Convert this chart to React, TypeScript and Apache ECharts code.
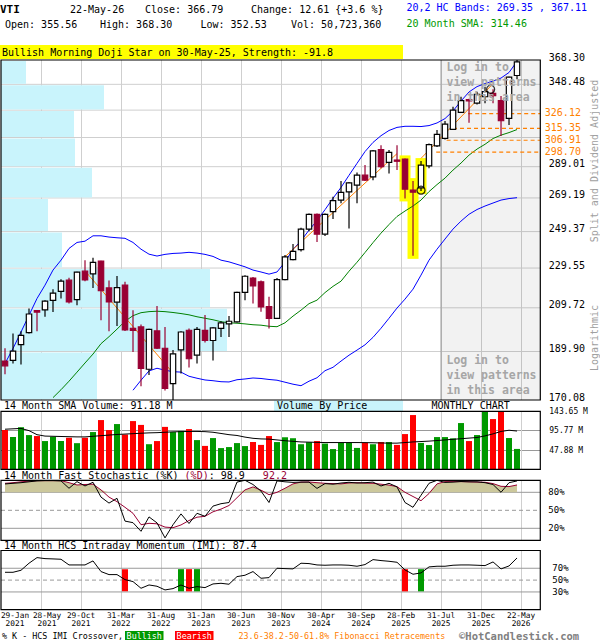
import React, { useEffect, useRef } from 'react';
import * as echarts from 'echarts';

const MONO = '"DejaVu Sans Mono", "Liberation Mono", monospace';
const font = (size: number, bold = false) => (bold ? 'bold ' : '') + size + 'px ' + MONO;

const RED_DARK = '#990033';
const VOL_RED = '#ff0000';
const VOL_GREEN = '#009900';
const ORANGE = '#ff8000';
const GRID_GRAY = '#cfcfcf';
const LEVEL_GRAY = '#999999';
const VBP_CYAN = '#c9f4fc';
const KHAKI = '#ccc89c';

// ---------------- data ----------------
const X_TICK_LABELS = [
  '29-Jan\n2021', '28-May\n2021', '29-Oct\n2021', '31-Mar\n2022', '31-Aug\n2022', '31-Jan\n2023',
  '30-Jun\n2023', '30-Nov\n2023', '30-Apr\n2024', '30-Sep\n2024', '28-Feb\n2025', '31-Jul\n2025',
  '31-Dec\n2025', '22-May\n2026',
];

// monthly OHLC, Jan-2021 .. May-2026 (65 months)
const OPEN = [
  185.8, 186.1, 192.9, 198.2, 208.4, 208.7, 213.3, 217.7, 223.3, 213.7,
  227.9, 226.5, 233.2, 219.4, 212.4, 220.8, 200.2, 200.8, 182.4, 199.0,
  191.3, 176.5, 190.6, 199.3, 188.3, 199.2, 194.7, 200.1, 202.2, 203.1,
  217.2, 224.4, 222.5, 210.3, 204.7, 223.6, 234.0, 239.4, 250.8, 259.3,
  247.9, 260.9, 267.9, 272.9, 277.2, 283.5, 282.4, 300.5, 291.8, 293.4,
  294.1, 274.0, 275.4, 289.5, 303.0, 308.2, 314.6, 327.0, 336.7, 333.9,
  338.8, 341.4, 335.8, 322.5, 355.56,
];
const HIGH = [
  191.3, 197.8, 198.8, 209.4, 208.6, 213.4, 218.8, 223.8, 224.5, 227.6,
  233.7, 235.0, 233.4, 223.2, 225.5, 222.5, 208.6, 201.9, 200.0, 210.6,
  200.8, 190.5, 198.8, 200.1, 200.8, 206.3, 200.8, 203.4, 205.8, 217.5,
  225.8, 224.9, 223.2, 215.0, 224.4, 236.4, 242.5, 251.5, 259.9, 259.9,
  259.9, 269.9, 279.7, 279.2, 285.2, 290.1, 300.1, 303.5, 300.1, 303.5,
  294.5, 279.7, 292.7, 304.6, 314.1, 320.7, 331.2, 338.8, 337.3, 342.7,
  346.5, 344.7, 339.3, 354.5, 368.30,
];
const LOW = [
  180.3, 184.8, 184.4, 197.8, 198.8, 205.5, 207.7, 214.2, 211.8, 211.0,
  222.8, 219.4, 203.9, 198.8, 201.2, 199.0, 189.7, 175.5, 180.0, 191.0,
  173.8, 169.0, 180.6, 183.1, 184.8, 193.8, 186.1, 196.3, 196.3, 202.8,
  213.4, 211.8, 207.9, 200.1, 204.4, 223.3, 233.7, 238.4, 249.6, 243.6,
  246.9, 256.6, 265.9, 251.2, 265.9, 279.7, 280.3, 288.0, 284.6, 286.8,
  268.9, 236.0, 273.4, 288.0, 302.3, 307.5, 314.1, 326.6, 319.3, 332.8,
  333.9, 333.9, 309.8, 317.7, 352.53,
];
const CLOSE = [
  183.8, 190.1, 197.0, 206.8, 207.7, 212.9, 216.8, 222.8, 212.5, 227.4,
  223.4, 232.5, 218.0, 212.5, 219.6, 199.4, 199.2, 182.7, 199.7, 191.3,
  174.6, 188.9, 198.5, 186.8, 199.7, 194.8, 200.4, 202.7, 203.4, 217.2,
  225.3, 220.4, 210.1, 204.7, 223.6, 235.4, 238.4, 250.8, 259.3, 247.9,
  259.3, 267.5, 272.6, 278.6, 283.5, 280.3, 299.6, 289.0, 298.5, 292.7,
  274.6, 272.7, 290.1, 303.9, 311.0, 318.4, 328.7, 335.8, 335.6, 340.7,
  342.7, 339.6, 320.8, 354.18, 366.79,
];

const BAND_UPPER = [
  184.8, 191.2, 198.5, 206.2, 214.2, 220.8, 228.5, 233.7, 240.0, 243.3,
  244.0, 247.0, 247.0, 246.3, 245.9, 245.6, 243.3, 239.6, 236.9, 235.9,
  236.8, 237.3, 237.5, 237.9, 237.5, 236.8, 235.7, 233.7, 232.8, 231.5,
  230.2, 228.5, 227.5, 226.4, 227.5, 232.7, 239.6, 244.2, 250.2, 255.7,
  262.1, 269.0, 275.7, 283.4, 291.2, 299.1, 305.4, 310.1, 313.8, 316.0,
  316.8, 316.8, 316.6, 317.3, 319.2, 322.4, 328.0, 335.5, 342.5, 346.7,
  349.1, 351.1, 353.5, 358.0, 367.11,
];
const BAND_LOWER = [
  null, null, null, null, null, null, null, null, null, null,
  null, null, null, null, null, null, 173.9, 177.9, 181.7, 182.8,
  182.0, 181.4, 181.2, 179.5, 178.7, 178.0, 177.7, 177.3, 177.2, 178.1,
  178.4, 178.8, 178.6, 178.2, 177.9, 177.1, 176.3, 175.7, 177.5, 178.9,
  181.8, 183.2, 185.8, 188.3, 190.5, 192.8, 196.1, 200.2, 204.8, 209.6,
  213.9, 218.8, 225.9, 233.7, 239.6, 245.2, 250.8, 255.4, 259.4, 262.2,
  264.3, 266.1, 267.9, 268.8, 269.35,
];
const SMA20 = [
  null, null, null, null, null, null, 171.0, 174.1, 177.5, 181.2,
  185.0, 188.8, 193.3, 196.4, 199.8, 203.4, 206.0, 207.4, 207.9, 208.1,
  207.9, 207.5, 207.0, 206.4, 205.5, 204.8, 204.1, 203.2, 202.7, 202.5,
  202.2, 201.8, 201.6, 201.1, 200.9, 202.7, 205.8, 208.6, 211.7, 213.4,
  217.1, 220.2, 222.8, 227.9, 232.6, 237.8, 243.2, 248.5, 253.4, 258.1,
  261.3, 264.3, 267.9, 273.1, 277.5, 281.6, 286.8, 291.4, 296.7, 300.8,
  304.1, 308.1, 310.5, 312.3, 314.46,
];

// volume in millions
const VOLUME = [
  97.5, 80.5, 104.5, 85.0, 82.6, 70.2, 80.9, 70.2, 78.4, 65.0,
  78.4, 92.5, 122.2, 97.4, 112.3, 86.7, 119.7, 110.2, 62.4, 70.2,
  105.3, 92.5, 95.3, 99.9, 72.6, 58.2, 77.6, 52.8, 55.3, 65.2,
  57.8, 68.0, 60.7, 82.6, 67.7, 79.6, 77.2, 62.4, 67.3, 70.2,
  64.0, 50.4, 66.1, 66.1, 53.2, 66.1, 62.3, 67.7, 67.7, 60.7,
  87.5, 134.6, 65.6, 60.3, 80.1, 80.1, 76.9, 114.8, 70.2, 85.1,
  150, 124.7, 152, 77.7, 50.72,
];
const VOLUME_SMA14 = [
  99.5, 100.5, 101.5, 96, 86, 82.5, 82, 81.5, 81, 80.5,
  80.5, 82, 83.5, 85, 86.5, 87.5, 88.5, 89.5, 90.5, 91,
  92, 93, 93.5, 94, 94, 93.5, 92, 89, 86, 84,
  80, 77, 75.5, 75, 73, 71, 69.5, 68, 67.5, 67,
  66.5, 66.5, 66.5, 66.5, 66.5, 66.3, 66, 65.5, 65, 65,
  66.5, 68, 69, 70, 71.5, 73, 74.5, 76, 77.5, 79,
  83, 88, 94, 97, 95,
];

const STOCH_K = [
  93.9, 95, 96, 97.5, 99, 99.5, 99.5, 99, 86.7, 97.8,
  90.6, 96.7, 72, 62, 70, 32, 29.4, 15, 39, 29,
  4, 26, 44, 28, 45, 40, 57, 61, 63, 97,
  100, 93, 82, 63, 99, 97.5, 96.5, 97, 97, 86.5,
  94.5, 93.5, 95.5, 96.7, 95.5, 96, 97, 90.5, 95, 89,
  63, 55, 75, 95, 100, 96.5, 97, 98, 97.5, 97.5,
  96, 93, 80, 96, 98.9,
];
const STOCH_D = [
  95, 96, 97.5, 98.5, 99.4, 99.4, 99.4, 99.4, 96, 92.2,
  93, 93.5, 84, 72, 64.4, 55, 45, 26, 28.3, 27.5,
  22, 21, 25.6, 33, 38.5, 40, 47.5, 52, 58, 71,
  84, 89, 83.5, 76, 80, 86.7, 94, 97, 97.2, 96,
  95, 94.5, 94, 95.5, 96, 95.3, 95, 93.5, 92, 89.5,
  80, 73, 66, 78, 94, 97.8, 97.8, 97.8, 97.5, 97,
  96.7, 94.5, 90, 89.5, 92.2,
];
const IMI = [
  63.2, 63.2, 66.6, 78.5, 88, 86.3, 85.8, 85.2, 75.6, 75.6,
  75.6, 82.4, 64.4, 59.3, 59.3, 50.8, 47.5, 36.2, 41.8, 39.6,
  33.4, 35.6, 41.8, 36.2, 39, 37.3, 43.5, 44.6, 43, 55.9,
  58.2, 64.4, 53.1, 54.2, 70, 69.4, 68.9, 78.5, 77.9, 75.6,
  75.1, 75.6, 75.6, 75.1, 73.4, 76.2, 84.6, 83, 81.8, 80.1,
  67.2, 59.9, 62.1, 72.3, 73.4, 73.4, 75.1, 75.6, 75.6, 75.1,
  74.5, 80.7, 68.9, 73.9, 87.4,
];
const IMI_BULLISH = [22, 24, 52];
const IMI_BEARISH = [15, 23, 50];

const PRICE_TICKS = [170.08, 189.90, 209.72, 229.55, 249.37, 269.19, 289.01, 308.83, 328.66, 348.48, 368.30];
const PRICE_TICK_LABELS = ['170.08', '189.90', '209.72', '229.55', '249.37', '269.19', '289.01', '', '', '348.48', '368.30'];
// volume-by-price per band between consecutive PRICE_TICKS (relative)
const VBP_VOLUME = [96, 226, 209, 61, 47, 91, 74, 73, 103, 25];

const FIB_LEVELS = [326.12, 315.35, 306.91, 298.70];
const FIB_START_MONTH = [57.9, 56.0, 55.2, 53.9];
const TREND_LINES = [
  [10.1, 227.6, 20.8, 181.6],
  [35.0, 235.5, 49.0, 297.7],
  [52.0, 294.5, 61.0, 349.0],
];
const PATTERN_MONTHS = [50, 51, 52];
const CIRCLES = [[52, 274.0], [60.7, 344.6]];
const LOCKED_FROM_MONTH = 54.5;
const STOCH_LEVELS = [20, 50, 80];
const IMI_LEVELS = [30, 50, 70];

// --------------- layout helpers ---------------
const X_MAX = 67.41;
const T = (i: number) => i + 0.5;
const GRIDS = [
  { left: 1, top: 60, width: 539.3, height: 340 },
  { left: 1, top: 411.4, width: 539.3, height: 58 },
  { left: 1, top: 480.3, width: 539.3, height: 60 },
  { left: 1, top: 550.5, width: 539.3, height: 59.2 },
];
const XLAB_SIZE = 7.8;
const XLAB_LH = 8.5;
const XLAB_MARGIN = 1.5;

function txtStyle(text: string, size: number, color: string, align = 'left', bold = false) {
  return {
    text, font: font(size, bold), fill: color,
    align, textAlign: align, verticalAlign: 'middle', textVerticalAlign: 'middle',
  };
}

function buildOption(): any {
  const xBase = (gridIndex: number) => ({
    type: 'value', gridIndex, min: 0, max: X_MAX, interval: 5,
    axisLine: { show: false }, axisTick: { show: false }, axisLabel: { show: false },
    splitLine: { show: true, showMinLine: false, showMaxLine: false, lineStyle: { color: GRID_GRAY, width: 1 } },
  });
  const xAxis: any[] = [xBase(0), xBase(1), xBase(2), xBase(3),
    { type: 'value', gridIndex: 0, min: 0, max: 539.3, show: false, position: 'top' }];
  xAxis[3].axisLabel = {
    show: true, fontFamily: MONO, fontSize: XLAB_SIZE, lineHeight: XLAB_LH, color: '#000', margin: XLAB_MARGIN,
    showMinLabel: false, showMaxLabel: false,
    rich: { s: { fontFamily: MONO, fontSize: XLAB_SIZE, lineHeight: XLAB_LH, color: '#000', padding: [0, 0, 0, 12] } },
    formatter: (v: number) => {
      const k = Math.round(v / 5);
      if (Math.abs(v - k * 5) > 1e-6 || k === 0) return '';
      const s = X_TICK_LABELS[k] ?? '';
      if (k === 1) return s.split('\n').map((p) => '{s|' + p + '}').join('\n');
      return s;
    },
  };

  const pctAxis = (gridIndex: number, levels: number[], margin: number) => ({
    type: 'value', gridIndex, min: 0, max: 100, interval: 10, position: 'right',
    axisLine: { show: false }, axisTick: { show: false }, splitLine: { show: false },
    axisLabel: {
      margin, fontFamily: MONO, fontSize: 9, color: '#000',
      formatter: (v: number) => (levels.indexOf(Math.round(v)) >= 0 ? Math.round(v) + '%' : ''),
    },
  });
  const yAxis: any[] = [
    { type: 'log', gridIndex: 0, min: 170.08, max: 368.30, logBase: 10, show: false },
    {
      type: 'value', gridIndex: 1, min: 0, max: 143.65, interval: 143.65 / 3, position: 'right',
      axisLine: { show: false }, axisTick: { show: false },
      splitLine: { show: true, lineStyle: { color: LEVEL_GRAY, width: 1 } },
      axisLabel: {
        margin: 9, fontFamily: MONO, fontSize: 8, color: '#000',
        formatter: (v: number) => (v < 1 ? '' : v.toFixed(2) + ' M'),
      },
    },
    pctAxis(2, STOCH_LEVELS, 8),
    pctAxis(3, IMI_LEVELS, 12),
  ];

  const line = (values: (number | null)[], xi: number, yi: number, color: string, z: number, width = 1) => ({
    type: 'line', xAxisIndex: xi, yAxisIndex: yi, z, silent: true,
    symbol: 'none', showSymbol: false, lineStyle: { color, width }, itemStyle: { color },
    data: values.map((v, i) => (v == null ? null : [T(i), v])).filter((d) => d !== null),
  });

  const levelSeries = (xi: number, yi: number, levels: number[]) => ({
    type: 'custom', xAxisIndex: xi, yAxisIndex: yi, z: 1, silent: true,
    data: levels.map((v) => [0, v]),
    renderItem: (params: any, api: any) => {
      const cs = params.coordSys;
      const y = api.coord([0, api.value(1)])[1];
      const dashed = api.value(1) === 50;
      return {
        type: 'line', shape: { x1: cs.x, y1: y, x2: cs.x + cs.width, y2: y },
        style: { stroke: LEVEL_GRAY, lineWidth: 1, lineDash: dashed ? [4, 3] : null },
      };
    },
  });

  const series: any[] = [
    // horizontal price grid + right labels
    {
      type: 'custom', xAxisIndex: 0, yAxisIndex: 0, z: 1, silent: true,
      data: PRICE_TICKS.map((p) => [0, p]),
      renderItem: (params: any, api: any) => {
        const cs = params.coordSys;
        const idx = params.dataIndex;
        const y = api.coord([0, api.value(1)])[1];
        const children: any[] = [];
        if (idx > 0 && idx < PRICE_TICKS.length - 1) {
          children.push({ type: 'line', shape: { x1: cs.x, y1: y, x2: cs.x + cs.width, y2: y }, style: { stroke: GRID_GRAY, lineWidth: 1 } });
        }
        const label = PRICE_TICK_LABELS[idx];
        if (label) {
          children.push({ type: 'text', x: cs.x + cs.width + 8.5, y: y - 3, style: txtStyle(label, 10, '#000') });
        }
        return { type: 'group', children };
      },
    },
    // locked (grey) area
    {
      type: 'custom', xAxisIndex: 0, yAxisIndex: 0, z: 1, silent: true,
      data: [[T(LOCKED_FROM_MONTH), 200]],
      renderItem: (params: any, api: any) => {
        const cs = params.coordSys;
        const x0 = api.coord([api.value(0), 200])[0];
        return {
          type: 'group', children: [
            { type: 'rect', shape: { x: x0, y: cs.y, width: cs.x + cs.width - x0, height: cs.height }, style: { fill: 'rgba(0,0,0,0.05)' } },
            { type: 'line', shape: { x1: x0, y1: cs.y, x2: x0, y2: cs.y + cs.height }, style: { stroke: '#9a9a9a', lineWidth: 1 } },
          ],
        };
      },
    },
    // volume by price
    {
      type: 'custom', xAxisIndex: 4, yAxisIndex: 0, z: 2, silent: true,
      data: VBP_VOLUME.map((v, k) => [v, PRICE_TICKS[k], PRICE_TICKS[k + 1]]),
      renderItem: (params: any, api: any) => {
        const cs = params.coordSys;
        const pHi = api.coord([api.value(0), api.value(2)]);
        const pLo = api.coord([api.value(0), api.value(1)]);
        return {
          type: 'rect',
          shape: { x: cs.x, y: pHi[1] + 1, width: pHi[0] - cs.x, height: Math.max(pLo[1] - pHi[1] - 1.5, 0) },
          style: { fill: VBP_CYAN },
        };
      },
    },
    // pattern highlight
    {
      type: 'custom', xAxisIndex: 0, yAxisIndex: 0, z: 3, silent: true,
      data: PATTERN_MONTHS.map((i) => [T(i), HIGH[i], LOW[i]]),
      renderItem: (params: any, api: any) => {
        const pH = api.coord([api.value(0), api.value(1)]);
        const pL = api.coord([api.value(0), api.value(2)]);
        return { type: 'rect', shape: { x: pH[0] - 5.5, y: pH[1] - 3, width: 11, height: pL[1] - pH[1] + 6 }, style: { fill: '#ffff00' } };
      },
    },
    line(BAND_UPPER, 0, 0, '#0000ff', 4),
    line(BAND_LOWER, 0, 0, '#0000ff', 4),
    line(SMA20, 0, 0, '#008000', 4),
    // trend lines
    {
      type: 'custom', xAxisIndex: 0, yAxisIndex: 0, z: 5, silent: true,
      data: TREND_LINES.map((r) => [T(r[0]), r[1], T(r[2]), r[3]]),
      renderItem: (params: any, api: any) => {
        const a = api.coord([api.value(0), api.value(1)]);
        const b = api.coord([api.value(2), api.value(3)]);
        return { type: 'line', shape: { x1: a[0], y1: a[1], x2: b[0], y2: b[1] }, style: { stroke: ORANGE, lineWidth: 1 } };
      },
    },
    // fibonacci retracements
    {
      type: 'custom', xAxisIndex: 0, yAxisIndex: 0, z: 5, silent: true,
      data: FIB_LEVELS.map((p, k) => [T(FIB_START_MONTH[k]), p]),
      renderItem: (params: any, api: any) => {
        const cs = params.coordSys;
        const a = api.coord([api.value(0), api.value(1)]);
        const xr = cs.x + cs.width;
        return {
          type: 'group', children: [
            { type: 'line', shape: { x1: a[0], y1: a[1], x2: xr, y2: a[1] }, style: { stroke: ORANGE, lineWidth: 1.2, lineDash: [4, 3] } },
            { type: 'text', x: xr + 4.5, y: a[1] - 1, style: txtStyle(api.value(1).toFixed(2), 10, ORANGE) },
          ],
        };
      },
    },
    // candles
    {
      type: 'custom', xAxisIndex: 0, yAxisIndex: 0, z: 6, silent: true,
      data: OPEN.map((o, i) => [T(i), o, HIGH[i], LOW[i], CLOSE[i]]),
      renderItem: (params: any, api: any) => {
        const cs = params.coordSys;
        const t = api.value(0), o = api.value(1), h = api.value(2), l = api.value(3), c = api.value(4);
        const pO = api.coord([t, o]);
        const x = pO[0];
        const yC = api.coord([t, c])[1];
        const yH = Math.max(api.coord([t, h])[1], cs.y);
        const yL = Math.min(api.coord([t, l])[1], cs.y + cs.height);
        const up = c >= o;
        const col = up ? '#000000' : RED_DARK;
        const top = Math.min(pO[1], yC);
        const bh = Math.max(Math.abs(yC - pO[1]), 1.2);
        return {
          type: 'group', children: [
            { type: 'line', shape: { x1: x, y1: yH, x2: x, y2: yL }, style: { stroke: col, lineWidth: 1.2 } },
            { type: 'rect', shape: { x: x - 2.7, y: top, width: 5.4, height: bh }, style: { fill: up ? '#ffffff' : col, stroke: col, lineWidth: 1.2 } },
          ],
        };
      },
    },
    // pattern circles
    {
      type: 'scatter', xAxisIndex: 0, yAxisIndex: 0, z: 7, silent: true,
      symbol: 'circle', symbolSize: 8,
      itemStyle: { color: 'rgba(0,0,0,0)', borderColor: '#000', borderWidth: 1.3 },
      data: CIRCLES.map((c) => [T(c[0]), c[1]]),
    },
    // volume bars
    {
      type: 'custom', xAxisIndex: 1, yAxisIndex: 1, z: 3, silent: true,
      data: VOLUME.map((v, i) => [T(i), v, CLOSE[i] < OPEN[i] ? 1 : 0]),
      renderItem: (params: any, api: any) => {
        const cs = params.coordSys;
        const p = api.coord([api.value(0), api.value(1)]);
        const base = api.coord([api.value(0), 0]);
        const top = Math.max(p[1], cs.y);
        return { type: 'rect', shape: { x: p[0] - 3, y: top, width: 6, height: base[1] - top }, style: { fill: api.value(2) ? VOL_RED : VOL_GREEN } };
      },
    },
    line(VOLUME_SMA14, 1, 1, '#000000', 4),
    // stochastic
    {
      type: 'custom', xAxisIndex: 2, yAxisIndex: 2, z: 2, silent: true,
      data: [[0, 80]],
      renderItem: (params: any, api: any) => {
        const pts = STOCH_D.map((d, i) => api.coord([T(i), Math.max(d, 80)]));
        pts.push(api.coord([T(STOCH_D.length - 1), 80]));
        pts.push(api.coord([T(0), 80]));
        return { type: 'polygon', shape: { points: pts }, style: { fill: KHAKI } };
      },
    },
    levelSeries(2, 2, STOCH_LEVELS),
    line(STOCH_D, 2, 2, RED_DARK, 4),
    line(STOCH_K, 2, 2, '#000000', 5),
    // IMI
    levelSeries(3, 3, IMI_LEVELS),
    ...[[IMI_BULLISH, VOL_GREEN], [IMI_BEARISH, VOL_RED]].map(([months, color]: any) => ({
      type: 'custom', xAxisIndex: 3, yAxisIndex: 3, z: 3, silent: true,
      data: months.map((i: number) => [T(i), 50]),
      renderItem: (params: any, api: any) => {
        const a = api.coord([api.value(0), 68.5]);
        const b = api.coord([api.value(0), 31]);
        return { type: 'rect', shape: { x: a[0] - 3, y: a[1], width: 6, height: b[1] - a[1] }, style: { fill: color } };
      },
    })),
    line(IMI, 3, 3, '#000000', 4),
  ];

  const T_ = (x: number, y: number, text: string, size = 10, color = '#000', opts: any = {}) => ({
    type: 'text', x, y, z: 100, silent: true, rotation: opts.rotation || 0,
    style: txtStyle(text, size, color, opts.align || 'left', !!opts.bold),
  });
  const rect = (x: number, y: number, w: number, h: number, fill: string, z = 99) => ({
    type: 'rect', z, silent: true, shape: { x, y, width: w, height: h }, style: { fill },
  });
  const CW = 6.02;
  const last = CLOSE.length - 1;
  const g3Bottom = GRIDS[3].top + GRIDS[3].height;
  const firstLab = X_TICK_LABELS[0].split('\n');
  const elements: any[] = [
    T_(0, 9, 'VTI', 11, '#000', { bold: true }),
    T_(70, 9, '22-May-26'),
    T_(145, 9, 'Close: ' + CLOSE[last].toFixed(2)),
    T_(251, 9, 'Change: 12.61 {+3.6 %}'),
    T_(406.5, 7, '20,2 HC Bands: ' + BAND_LOWER[last]!.toFixed(2) + ' , ' + BAND_UPPER[last].toFixed(2), 10, '#0000ff'),
    T_(5, 24, 'Open: ' + OPEN[last].toFixed(2)),
    T_(100, 24, 'High: ' + HIGH[last].toFixed(2)),
    T_(200.5, 24, 'Low: ' + LOW[last].toFixed(2)),
    T_(291, 24, 'Vol: 50,723,360'),
    T_(406.5, 23, '20 Month SMA: ' + SMA20[last]!.toFixed(2), 10, '#009900'),
    rect(0, 45, 403, 14, '#ffff00'),
    T_(2, 52, 'Bullish Morning Doji Star on 30-May-25, Strength: -91.8'),
    // login overlay texts
    T_(446.5, 67, 'Log in to', 11.5, '#a6a6a6', { bold: true }),
    T_(446.5, 82, 'view patterns', 11.5, '#a6a6a6', { bold: true }),
    T_(446.5, 97, 'in this area', 11.5, '#a6a6a6', { bold: true }),
    T_(446.5, 359.5, 'Log in to', 11.5, '#a6a6a6', { bold: true }),
    T_(446.5, 374.5, 'view patterns', 11.5, '#a6a6a6', { bold: true }),
    T_(446.5, 389.5, 'in this area', 11.5, '#a6a6a6', { bold: true }),
    T_(594, 161, 'Split and Dividend Adjusted', 10, '#a0a0a0', { align: 'center', rotation: Math.PI / 2 }),
    T_(594, 338, 'Logarithmic', 10, '#a0a0a0', { align: 'center', rotation: Math.PI / 2 }),
    // first x label (left edge)
    T_(15, g3Bottom + XLAB_MARGIN + XLAB_LH / 2, firstLab[0], XLAB_SIZE, '#000', { align: 'center' }),
    T_(15, g3Bottom + XLAB_MARGIN + XLAB_LH * 1.5, firstLab[1], XLAB_SIZE, '#000', { align: 'center' }),
    // volume header
    T_(4, 405.5, '14 Month SMA Volume: 91.18 M'),
    rect(274, 400.5, 129, 10.5, VBP_CYAN),
    T_(277, 405.5, 'Volume By Price'),
    T_(431.5, 405.5, 'MONTHLY CHART'),
    // stochastic header
    T_(4, 475.5, '14 Month Fast Stochastic (%K) '),
    T_(4 + 30 * CW, 475.5, '(%D)', 10, RED_DARK),
    T_(4 + 34 * CW, 475.5, ': ' + STOCH_K[last].toFixed(1)),
    T_(4 + 43 * CW, 475.5, STOCH_D[last].toFixed(1), 10, RED_DARK),
    // IMI header
    T_(4, 545.5, '14 Month HCS Intraday Momentum (IMI): ' + IMI[last].toFixed(1)),
    // legend
    T_(2, 635.5, '% K - HCS IMI Crossover,', 8.4),
    rect(125, 631, 38.5, 9, VOL_GREEN),
    T_(144.25, 635.5, 'Bullish', 8.4, '#ffffff', { align: 'center' }),
    rect(175, 631, 38.5, 9, VOL_RED),
    T_(194.25, 635.5, 'Bearish', 8.4, '#ffffff', { align: 'center' }),
    T_(238.5, 635.5, '23.6-38.2-50-61.8% Fibonacci Retracements', 8.4, ORANGE),
    T_(459, 635.5, '©HotCandlestick.com', 10.5, '#808080', { bold: true }),
  ];
  GRIDS.forEach((g) => {
    elements.push({
      type: 'rect', z: 101, silent: true,
      shape: { x: g.left, y: g.top, width: g.width, height: g.height },
      style: { fill: 'none', stroke: '#000000', lineWidth: 1.2 },
    });
  });

  return {
    animation: false,
    backgroundColor: '#ffffff',
    textStyle: { fontFamily: MONO },
    grid: GRIDS.map((g) => ({ ...g, show: false, containLabel: false, outerBoundsMode: 'none' })),
    xAxis,
    yAxis,
    series,
    graphic: { elements },
  };
}

export default function App() {
  const ref = useRef<HTMLDivElement | null>(null);
  useEffect(() => {
    if (!ref.current) return;
    const chart = echarts.init(ref.current, null, { renderer: 'svg' });
    chart.setOption(buildOption());
    return () => chart.dispose();
  }, []);
  return <div ref={ref} style={{ position: 'absolute', left: 0, top: 0, width: 600, height: 640 }} />;
}
